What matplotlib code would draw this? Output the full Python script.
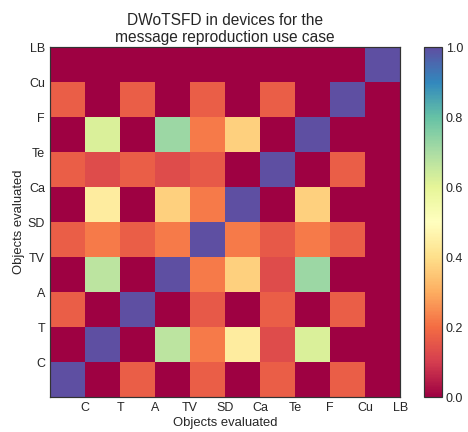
import numpy as np
import matplotlib
matplotlib.use("Agg")
import matplotlib.pyplot as plt

labels = ["C", "T", "A", "TV", "SD", "Ca", "Te", "F", "Cu", "LB"]

# rows from bottom (C) to top (LB); columns C..LB
row_C  = [1.00, 0.00, 0.17, 0.00, 0.17, 0.00, 0.17, 0.00, 0.17, 0.00]
row_T  = [0.00, 1.00, 0.00, 0.67, 0.22, 0.44, 0.13, 0.62, 0.00, 0.00]
row_A  = [0.17, 0.00, 1.00, 0.00, 0.16, 0.00, 0.17, 0.00, 0.17, 0.00]
row_TV = [0.00, 0.67, 0.00, 1.00, 0.22, 0.37, 0.13, 0.72, 0.00, 0.00]
row_SD = [0.17, 0.22, 0.17, 0.22, 1.00, 0.22, 0.16, 0.22, 0.17, 0.00]
row_Ca = [0.00, 0.44, 0.00, 0.37, 0.22, 1.00, 0.00, 0.37, 0.00, 0.00]
row_Te = [0.17, 0.13, 0.17, 0.13, 0.16, 0.00, 1.00, 0.00, 0.17, 0.00]
row_F  = [0.00, 0.62, 0.00, 0.72, 0.22, 0.37, 0.00, 1.00, 0.00, 0.00]
row_Cu = [0.17, 0.00, 0.17, 0.00, 0.17, 0.00, 0.17, 0.00, 1.00, 0.00]
row_LB = [0.00, 0.00, 0.00, 0.00, 0.00, 0.00, 0.00, 0.00, 0.00, 1.00]

data = np.array([row_C, row_T, row_A, row_TV, row_SD, row_Ca, row_Te, row_F, row_Cu, row_LB])

plt.rcParams['font.family'] = ['Liberation Sans', 'DejaVu Sans']
text_color = '#262626'

fig = plt.figure(figsize=(6.5, 6.0), dpi=72)
ax = fig.add_axes([0.107, 0.081, 0.748, 0.810])
cax = fig.add_axes([0.906, 0.081, 0.038, 0.810])

mesh = ax.pcolormesh(data, cmap='Spectral', vmin=0, vmax=1)
ax.set_xlim(0, 10)
ax.set_ylim(0, 10)

ticks = np.arange(1, 11)
ax.set_xticks(ticks)
ax.set_xticklabels(labels)
ax.set_yticks(ticks)
ax.set_yticklabels(labels)
ax.tick_params(length=0, pad=5, labelsize=12.5, colors=text_color)

for s in ax.spines.values():
    s.set_color('#333333')
    s.set_linewidth(1.2)

ax.set_xlabel("Objects evaluated", fontsize=13, color=text_color, labelpad=3)
ax.set_ylabel("Objects evaluated", fontsize=13, color=text_color, labelpad=3)
ax.set_title("DWoTSFD in devices for the\nmessage reproduction use case",
             fontsize=15.5, color=text_color, pad=5, linespacing=1.2)

cb = fig.colorbar(mesh, cax=cax)
cb.set_ticks([0.0, 0.2, 0.4, 0.6, 0.8, 1.0])
cb.ax.tick_params(length=0, pad=4, labelsize=12.5, colors=text_color)
cb.outline.set_edgecolor('#333333')
cb.outline.set_linewidth(1.2)

fig.savefig("out.png", dpi=72)
